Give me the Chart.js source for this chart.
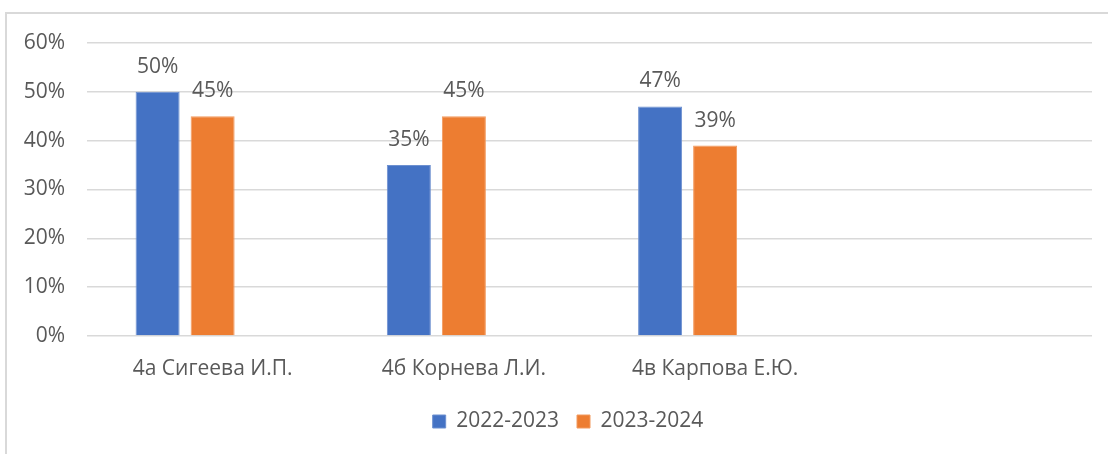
<!DOCTYPE html>
<html>
<head>
<meta charset="utf-8">
<script src="https://cdn.jsdelivr.net/npm/chart.js@4.4.1/dist/chart.umd.min.js"></script>
<style>
  html, body { margin: 0; padding: 0; background: #fff; }
  #wrap { position: relative; width: 1108px; height: 454px; overflow: hidden; }
  /* рамка области диаграммы (уходит за правый и нижний край) */
  #frame { position: absolute; left: 5px; top: 12px; width: 1200px; height: 500px;
           border-left: 2px solid #d9d9d9; border-top: 2px solid #d9d9d9; }
  #chart { position: absolute; left: 0; top: 0; }
</style>
</head>
<body>
<div id="wrap">
  <div id="frame"></div>
  <canvas id="chart" width="1108" height="454"></canvas>
</div>
<script>
// --- данные ---
const categories = ['4а Сигеева И.П.', '4б Корнева Л.И.', '4в Карпова Е.Ю.', ''];
const seriesNames = ['2022-2023', '2023-2024'];
const values2022 = [50, 35, 47, null];
const values2023 = [45, 45, 39, null];
const yTicks = [0, 10, 20, 30, 40, 50, 60];

const textColor = '#595959';
const fontFamily = '"Open Sans", "Liberation Sans", sans-serif';
const fontSize = 21;

// подписи значений над столбиками (вместо datalabels)
const valueLabels = {
  id: 'valueLabels',
  afterDatasetsDraw(chart) {
    const ctx = chart.ctx;
    ctx.save();
    ctx.font = fontSize + 'px ' + fontFamily;
    ctx.fillStyle = textColor;
    ctx.textAlign = 'center';
    ctx.textBaseline = 'middle';
    chart.data.datasets.forEach((ds, i) => {
      const meta = chart.getDatasetMeta(i);
      meta.data.forEach((bar, j) => {
        const v = ds.data[j];
        if (v == null) return;
        ctx.fillText(v + '%', bar.x, bar.y - 25);
      });
    });
    ctx.restore();
  }
};

// легенда в Excel чуть правее центра
const shiftLegend = {
  id: 'shiftLegend',
  afterLayout(chart) {
    if (!chart.legend) return;
    chart.legend.left += 22;
    chart.legend.right += 22;
  }
};

const data = {
  labels: categories,
  datasets: [
    { label: seriesNames[0], data: values2022, backgroundColor: '#4472C4', borderColor: '#6d90d0', borderWidth: 1 },
    { label: seriesNames[1], data: values2023, backgroundColor: '#ED7D31', borderColor: '#f29a5e', borderWidth: 1 },
    // пустой третий ряд, как в исходной таблице Excel
    { label: '', data: [null, null, null, null], backgroundColor: 'transparent' }
  ]
};

const config = {
  type: 'bar',
  data: data,
  options: {
    responsive: false,
    animation: false,
    layout: { padding: { top: 43, right: 16, left: 0, bottom: 12 } },
    datasets: {
      bar: { categoryPercentage: 0.657, barPercentage: 0.8 }
    },
    plugins: {
      title: { display: false },
      tooltip: { enabled: false },
      legend: {
        position: 'bottom',
        labels: {
          color: textColor,
          font: { family: fontFamily, size: fontSize },
          boxWidth: 13,
          boxHeight: 13,
          padding: 18,
          filter: item => item.text !== ''
        }
      }
    },
    scales: {
      x: {
        grid: { display: false },
        border: { display: false },
        ticks: { color: textColor, font: { family: fontFamily, size: fontSize }, padding: 12 },
        afterFit: s => { s.height = 57; }
      },
      y: {
        min: 0,
        max: 60,
        afterBuildTicks: s => { s.ticks = yTicks.map(v => ({ value: v })); },
        grid: { color: '#d9d9d9', lineWidth: 1.5, drawTicks: false },
        border: { display: false },
        ticks: {
          color: textColor,
          font: { family: fontFamily, size: fontSize },
          padding: 22,
          callback: v => v + '%'
        },
        afterFit: s => { s.width = 87; }
      }
    }
  },
  plugins: [valueLabels, shiftLegend]
};

const chart = new Chart(document.getElementById('chart'), config);
</script>
</body>
</html>
